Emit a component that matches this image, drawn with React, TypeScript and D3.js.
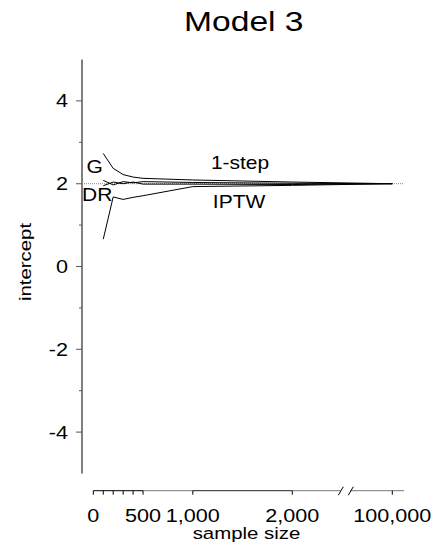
import React from "react";
import * as d3 from "d3";

// sample sizes on the (broken) x axis
const sampleSizes = [100, 200, 300, 400, 500, 1000, 2000, 100000];

// intercept estimates per method
const gValues = [2.73, 2.37, 2.22, 2.16, 2.13, 2.09, 2.04, 2.0];
const oneStepValues = [2.08, 1.97, 2.05, 2.02, 2.05, 2.03, 2.01, 2.0];
const drValues = [1.95, 2.04, 2.0, 2.04, 1.99, 1.99, 1.98, 2.0];
const iptwValues = [0.66, 1.68, 1.62, 1.67, 1.71, 1.93, 1.96, 2.0];

const seriesNames = ["G", "1-step", "DR", "IPTW"];
const seriesValues = [gValues, oneStepValues, drValues, iptwValues];

// label anchor points (sample size, intercept)
const labelNs = [14, 1475, 39, 1465];
const labelVals = [2.25, 2.35, 1.58, 1.42];

const xMajorTicks = [0, 500, 1000, 2000, 100000];
const xMinorTicks = [100, 200, 300, 400];
const yMajorTicks = [-4, -2, 0, 2, 4];
const yMinorTicks = [-3, -1, 1, 3];
const truth = 2;

const FONT = "'Liberation Sans', Arial, Helvetica, sans-serif";
const SX = 1.2; // the reference glyphs are wide

const Txt = ({ x, y, size, anchor = "middle", rotate = 0, dy, children }: any) => (
  <text
    transform={`translate(${x},${y})${rotate ? ` rotate(${rotate})` : ""} scale(${SX},1)`}
    fontSize={size}
    fontFamily={FONT}
    textAnchor={anchor}
    dy={dy}
    fill="#000"
  >
    {children}
  </text>
);

const App = () => {
  const width = 437;
  const height = 555;

  // piecewise x scale: linear up to 2000, then a break to 100,000
  const x = d3.scaleLinear().domain([0, 2000, 100000]).range([93.3, 292.3, 392.3]);
  const y = d3.scaleLinear().domain([-5, 5]).range([473.5, 59.5]);

  const axisX = 82;
  const xAxisY = 490.7;
  const xAxisEnd = 404;
  const breakL = x(2000) + 48;
  const breakR = breakL + 10;

  const line = d3
    .line<number>()
    .x((_, i) => x(sampleSizes[i]))
    .y((d) => y(d));

  return (
    <svg
      width={width}
      height={height}
      style={{ position: "absolute", left: 0, top: 0, background: "#fff" }}
    >
      {/* title */}
      <Txt x={243.8} y={31} size={28}>Model 3</Txt>

      {/* y axis */}
      <line x1={axisX} x2={axisX} y1={y(5)} y2={y(-5)} stroke="#000" strokeWidth={1} />
      {yMajorTicks.map((t) => (
        <g key={t}>
          <line x1={axisX - 6} x2={axisX} y1={y(t)} y2={y(t)} stroke="#555" />
          <Txt x={68} y={y(t)} size={18} anchor="end" dy="0.36em">{t}</Txt>
        </g>
      ))}
      {yMinorTicks.map((t) => (
        <line key={t} x1={axisX - 3} x2={axisX} y1={y(t)} y2={y(t)} stroke="#555" />
      ))}
      <Txt x={31} y={262} size={17} rotate={-90}>intercept</Txt>

      {/* reference line at the true value */}
      <line
        x1={axisX - 6}
        x2={xAxisEnd}
        y1={y(truth)}
        y2={y(truth)}
        stroke="#888"
        strokeWidth={1}
        strokeDasharray="1,1"
      />

      {/* estimate lines */}
      {seriesValues.map((vals, i) => (
        <path key={seriesNames[i]} d={line(vals) || ""} fill="none" stroke="#000" strokeWidth={1} />
      ))}
      {seriesNames.map((name, i) => (
        <Txt key={name} x={x(labelNs[i])} y={y(labelVals[i])} size={17.5}>{name}</Txt>
      ))}

      {/* x axis with break */}
      <line x1={x(0)} x2={x(500)} y1={xAxisY} y2={xAxisY} stroke="#000" />
      <line x1={x(500)} x2={x(1000)} y1={xAxisY} y2={xAxisY} stroke="#777" />
      <line x1={x(1000)} x2={x(2000)} y1={xAxisY} y2={xAxisY} stroke="#222" />
      <line x1={x(2000)} x2={breakL} y1={xAxisY} y2={xAxisY} stroke="#777" />
      <line x1={breakR} x2={xAxisEnd} y1={xAxisY} y2={xAxisY} stroke="#777" />
      <line x1={breakL - 2} x2={breakL + 3} y1={xAxisY + 4.5} y2={xAxisY - 4} stroke="#000" />
      <line x1={breakR - 2} x2={breakR + 3} y1={xAxisY + 4.5} y2={xAxisY - 4} stroke="#000" />
      {xMinorTicks.map((t) => (
        <line key={t} x1={x(t)} x2={x(t)} y1={xAxisY} y2={xAxisY + 4} stroke="#000" />
      ))}
      {xMajorTicks.map((t) => (
        <g key={t}>
          <line x1={x(t)} x2={x(t)} y1={xAxisY} y2={xAxisY + 4} stroke="#000" />
          <Txt x={x(t)} y={522} size={18}>{d3.format(",")(t)}</Txt>
        </g>
      ))}
      <Txt x={246.5} y={539} size={17}>sample size</Txt>
    </svg>
  );
};

export default App;
